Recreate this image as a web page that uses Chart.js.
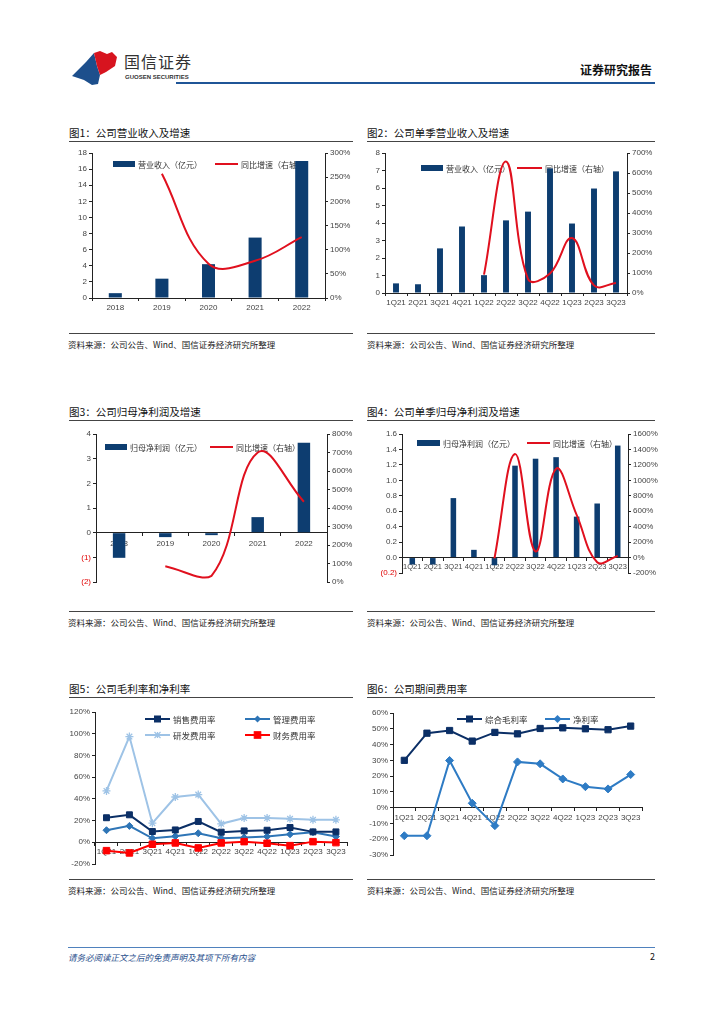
<!DOCTYPE html>
<html>
<head>
<meta charset="utf-8">
<script src="https://cdn.jsdelivr.net/npm/chart.js@4.4.0/dist/chart.umd.min.js"></script>
<style>
    body { margin: 0; width: 724px; height: 1024px; position: relative; background: #fff; overflow: hidden;
           font-family: "Noto Sans CJK SC", sans-serif; }
    .title { position: absolute; font-size: 10.5px; line-height: 14px; color: #111; white-space: nowrap; }
    .rule { position: absolute; height: 1px; background: #444; }
    .src { position: absolute; font-size: 8.5px; line-height: 12px; color: #222; white-space: nowrap; }
    canvas { position: absolute; }
</style>
</head>
<body>
<!-- cabecera -->
<svg style="position:absolute;left:0;top:0" width="200" height="95">
    <polygon points="72,76 86,62 94,53 97,66 100,75 98,84 92,85 84,80" fill="#1d4f8c"/>
    <polygon points="94,53 100,51 107,54 112,52 117,57 115,66 106,72 100,75 97,66" fill="#d7141f"/>
</svg>
<div style="position:absolute;left:124px;top:52px;font-size:16px;line-height:18px;color:#333;letter-spacing:1px">国信证券</div>
<div style="position:absolute;left:125px;top:73px;font-family:'Liberation Sans',Arial;font-size:6px;line-height:8px;color:#333;font-weight:bold">GUOSEN SECURITIES</div>
<div style="position:absolute;left:580px;top:62px;font-size:12px;line-height:15px;font-weight:bold;color:#111">证券研究报告</div>
<div style="position:absolute;left:176px;top:82px;width:479px;height:2px;background:#1f5597"></div>

<!-- títulos y fuentes -->
<div class="title" style="left:69px;top:126px">图1：公司营业收入及增速</div>
<div class="rule" style="left:69px;top:141px;width:284px"></div>
<div class="title" style="left:367px;top:126px">图2：公司单季营业收入及增速</div>
<div class="rule" style="left:367px;top:141px;width:288px"></div>
<div class="rule" style="left:69px;top:333px;width:284px"></div>
<div class="src" style="left:68px;top:338px">资料来源：公司公告、Wind、国信证券经济研究所整理</div>
<div class="rule" style="left:367px;top:333px;width:288px"></div>
<div class="src" style="left:367px;top:338px">资料来源：公司公告、Wind、国信证券经济研究所整理</div>

<div class="title" style="left:69px;top:405px">图3：公司归母净利润及增速</div>
<div class="rule" style="left:69px;top:420px;width:284px"></div>
<div class="title" style="left:367px;top:405px">图4：公司单季归母净利润及增速</div>
<div class="rule" style="left:367px;top:420px;width:288px"></div>
<div class="rule" style="left:69px;top:611px;width:284px"></div>
<div class="src" style="left:68px;top:616px">资料来源：公司公告、Wind、国信证券经济研究所整理</div>
<div class="rule" style="left:367px;top:611px;width:288px"></div>
<div class="src" style="left:367px;top:616px">资料来源：公司公告、Wind、国信证券经济研究所整理</div>

<div class="title" style="left:69px;top:682px">图5：公司毛利率和净利率</div>
<div class="rule" style="left:69px;top:697px;width:284px"></div>
<div class="title" style="left:367px;top:682px">图6：公司期间费用率</div>
<div class="rule" style="left:367px;top:697px;width:288px"></div>
<div class="rule" style="left:69px;top:879px;width:284px"></div>
<div class="src" style="left:68px;top:884px">资料来源：公司公告、Wind、国信证券经济研究所整理</div>
<div class="rule" style="left:367px;top:879px;width:288px"></div>
<div class="src" style="left:367px;top:884px">资料来源：公司公告、Wind、国信证券经济研究所整理</div>

<!-- pie de página -->
<div style="position:absolute;left:68px;top:947px;width:587px;height:1px;background:#4f81bd"></div>
<div style="position:absolute;left:68px;top:951px;font-size:8.5px;line-height:12px;font-style:italic;color:#1f4e8c">请务必阅读正文之后的免责声明及其项下所有内容</div>
<div style="position:absolute;left:650px;top:951px;font-size:9px;line-height:12px;color:#111">2</div>

<canvas id="c1" width="284" height="175" style="left:69px;top:145px"></canvas>
<canvas id="c2" width="288" height="175" style="left:367px;top:145px"></canvas>
<canvas id="c3" width="284" height="167" style="left:69px;top:425px"></canvas>
<canvas id="c4" width="291" height="167" style="left:367px;top:425px"></canvas>
<canvas id="c5" width="284" height="170" style="left:69px;top:702px"></canvas>
<canvas id="c6" width="288" height="160" style="left:367px;top:702px"></canvas>

<script>
// Datos
const years = ['2018', '2019', '2020', '2021', '2022'];
const quarters = ['1Q21', '2Q21', '3Q21', '4Q21', '1Q22', '2Q22', '3Q22', '4Q22', '1Q23', '2Q23', '3Q23'];

// 图1 营业收入（亿元）/ 同比增速（%）
const revenueYear = [0.6, 2.4, 4.2, 7.5, 17.0];
const revenueYearYoy = [null, 257, 71, 77, 126];

// 图2 单季营业收入
const revenueQ = [0.55, 0.5, 2.55, 3.8, 1.02, 4.15, 4.65, 7.12, 3.97, 5.97, 6.95];
const revenueQYoy = [null, null, null, null, 92, 658, 70, 97, 275, 38, 50];

// 图3 归母净利润
const profitYear = [-1.02, -0.18, -0.1, 0.63, 3.65];
const profitYearYoy = [null, 85, 33, 700, 434];

// 图4 单季归母净利润
const profitQ = [-0.09, -0.09, 0.77, 0.1, -0.1, 1.19, 1.28, 1.3, 0.53, 0.7, 1.45];
const profitQYoy = [null, null, null, null, -10, 1340, 78, 1150, 553, -60, 22];

// 图5 费用率（%）
const salesRate = [22.6, 25.3, 9.9, 11.4, 19.2, 9.3, 10.5, 11.1, 13.6, 9.6, 9.6];
const adminRate = [11.1, 15.1, 3.7, 5.6, 8.3, 3.7, 4.3, 5.3, 7.4, 9.3, 5.3];
const rdRate = [47.3, 97.4, 17.6, 41.7, 43.9, 17.0, 22.3, 22.3, 21.6, 20.7, 20.7];
const finRate = [-7.7, -9.8, -1.8, -0.6, -5.2, -0.6, 0.6, -0.9, -3.1, 0.6, -0.3];

// 图6 毛利率 / 净利率（%）
const grossMargin = [30.0, 47.2, 48.9, 42.2, 47.7, 46.8, 50.2, 50.6, 50.0, 49.4, 51.7];
const netMargin = [-17.8, -17.8, 29.9, 2.8, -11.4, 29.0, 27.8, 18.2, 13.3, 11.9, 21.0];

// Estilos comunes
const NAVY = '#0d3d70';
const RED = '#e0101e';
const axisColor = '#222';
const tickColor = '#444';
const tickFont = { family: '"Liberation Sans", Arial, sans-serif', size: 8 };
const pct = v => v + '%';
const negColor = ctx => (ctx.tick && ctx.tick.value < -1e-9) ? '#e00000' : tickColor;

// Eje de valores
function valueAxis(position, min, max, step, fmt, width, color) {
    return {
        position: position, min: min, max: max,
        grid: { drawOnChartArea: false, drawTicks: true, tickLength: 3, color: axisColor },
        border: { display: true, color: axisColor },
        ticks: { stepSize: step, font: tickFont, color: color || tickColor, padding: 2, callback: fmt, autoSkip: false },
        afterFit(scale) { scale.width = width; }
    };
}

// Eje de categorías
function categoryAxis(extra, tickPadding, fontSize) {
    return Object.assign({
        offset: true,
        grid: { display: true, drawOnChartArea: false, drawTicks: true, tickLength: 3, color: axisColor, offset: true },
        border: { display: true, color: axisColor },
        ticks: { font: Object.assign({}, tickFont, { size: fontSize || 8 }), color: tickColor,
                 padding: tickPadding || 2, maxRotation: 0, minRotation: 0, autoSkip: false }
    }, extra);
}

// Marcadores para la leyenda
function drawMarker(ctx, style, x, y, size, fill, stroke) {
    ctx.fillStyle = fill;
    ctx.strokeStyle = stroke;
    ctx.lineWidth = 1;
    if (style === 'rect') {
        ctx.fillRect(x - size, y - size, size * 2, size * 2);
        ctx.strokeRect(x - size, y - size, size * 2, size * 2);
    } else if (style === 'rectRot') {
        ctx.beginPath();
        ctx.moveTo(x, y - size); ctx.lineTo(x + size, y); ctx.lineTo(x, y + size); ctx.lineTo(x - size, y);
        ctx.closePath(); ctx.fill();
    } else if (style === 'star') {
        ctx.beginPath();
        ctx.moveTo(x - size, y - size); ctx.lineTo(x + size, y + size);
        ctx.moveTo(x + size, y - size); ctx.lineTo(x - size, y + size);
        ctx.moveTo(x, y - size); ctx.lineTo(x, y + size);
        ctx.lineWidth = 1.2; ctx.stroke();
    }
}

// Leyenda dibujada dentro del área del gráfico (debajo de las barras)
function innerLegend(box, items, fontSize) {
    return {
        id: 'innerLegend',
        beforeDatasetsDraw(chart) {
            const ctx = chart.ctx;
            ctx.save();
            ctx.font = fontSize + 'px "Noto Sans CJK SC"';
            ctx.textBaseline = 'middle';
            items.forEach(it => {
                const x = it.x - box.left, y = it.y - box.top;
                if (it.kind === 'box') {
                    ctx.fillStyle = it.color;
                    ctx.fillRect(x, y - 3, it.w, 6);
                } else {
                    ctx.strokeStyle = it.color;
                    ctx.lineWidth = 2;
                    ctx.beginPath(); ctx.moveTo(x, y); ctx.lineTo(x + it.w, y); ctx.stroke();
                    if (it.marker) drawMarker(ctx, it.marker, x + it.w / 2, y, it.size, it.fill || it.color, it.color);
                }
                ctx.fillStyle = '#333';
                ctx.fillText(it.text, x + it.w + 3, y + 0.5);
            });
            ctx.restore();
        }
    };
}

const baseOptions = { responsive: false, animation: false, devicePixelRatio: 1,
    plugins: { legend: { display: false }, tooltip: { enabled: false } } };

function barLineChart(id, box, labels, bars, line, scales, padding, legendItems, barPct) {
    new Chart(document.getElementById(id), {
        type: 'bar',
        data: {
            labels: labels,
            datasets: [
                { type: 'line', data: line, yAxisID: 'y1', borderColor: RED, borderWidth: 2, pointRadius: 0,
                  tension: 0.4, order: 0 },
                { type: 'bar', data: bars, yAxisID: 'y', backgroundColor: NAVY,
                  categoryPercentage: 1, barPercentage: barPct, order: 1 }
            ]
        },
        options: Object.assign({}, baseOptions, { layout: { padding: padding }, scales: scales }),
        plugins: [innerLegend(box, legendItems, 8)]
    });
}

// 图1
barLineChart('c1', { left: 69, top: 145 }, years, revenueYear, revenueYearYoy, {
    x: categoryAxis({ afterFit(s) { s.height = 22; } }),
    y: valueAxis('left', 0, 18, 2, v => v, 23),
    y1: valueAxis('right', 0, 300, 50, pct, 28)
}, { top: 8 }, [
    { kind: 'box', x: 113, y: 164, w: 22, color: NAVY, text: '营业收入（亿元）' },
    { kind: 'line', x: 215, y: 164, w: 23, color: RED, text: '同比增速（右轴）' }
], 0.28);

// 图2
barLineChart('c2', { left: 367, top: 145 }, quarters, revenueQ, revenueQYoy, {
    x: categoryAxis({ afterFit(s) { s.height = 27; } }),
    y: valueAxis('left', 0, 8, 1, v => v, 18),
    y1: valueAxis('right', 0, 700, 100, pct, 28)
}, { top: 8 }, [
    { kind: 'box', x: 421, y: 168, w: 22, color: NAVY, text: '营业收入（亿元）' },
    { kind: 'line', x: 517, y: 168, w: 25, color: RED, text: '同比增速（右轴）' }
], 0.27);

// 图3
barLineChart('c3', { left: 69, top: 425 }, years, profitYear, profitYearYoy, {
    x: categoryAxis({ position: { y: 0 } }, 3),
    y: valueAxis('left', -2, 4, 1, v => v < 0 ? '(' + (-v) + ')' : v, 27, negColor),
    y1: valueAxis('right', 0, 800, 100, pct, 26)
}, { top: 9, bottom: 10 }, [
    { kind: 'box', x: 105, y: 447, w: 22, color: NAVY, text: '归母净利润（亿元）' },
    { kind: 'line', x: 210, y: 447, w: 23, color: RED, text: '同比增速（右轴）' }
], 0.27);

// 图4
barLineChart('c4', { left: 367, top: 425 }, quarters, profitQ, profitQYoy, {
    x: categoryAxis({ position: { y: 0 } }, 2, 7.5),
    y: valueAxis('left', -0.2, 1.6, 0.2, v => v < -1e-9 ? '(' + (-v).toFixed(1) + ')' : v.toFixed(1), 35, negColor),
    y1: valueAxis('right', -200, 1600, 200, pct, 30)
}, { top: 9, bottom: 19 }, [
    { kind: 'box', x: 417, y: 443, w: 23, color: NAVY, text: '归母净利润（亿元）' },
    { kind: 'line', x: 527, y: 443, w: 23, color: RED, text: '同比增速（右轴）' }
], 0.27);

// 图5
function lineSet(data, color, style, radius, fill) {
    return { data: data, borderColor: color, backgroundColor: fill || color, borderWidth: 2,
             pointStyle: style, pointRadius: radius, pointBorderColor: color, pointBackgroundColor: fill || color,
             pointBorderWidth: style === 'star' ? 1.3 : 1, tension: 0 };
}

new Chart(document.getElementById('c5'), {
    type: 'line',
    data: {
        labels: quarters,
        datasets: [
            lineSet(finRate, '#ff0000', 'rect', 4.6),
            lineSet(salesRate, '#0b2f66', 'rect', 4.2),
            lineSet(adminRate, '#2e75b6', 'rectRot', 3.5),
            lineSet(rdRate, '#9ec3e6', 'star', 4)
        ]
    },
    options: Object.assign({}, baseOptions, {
        layout: { padding: { top: 10, bottom: 8, right: 5 } },
        scales: {
            x: categoryAxis({ position: { y: 0 } }),
            y: valueAxis('left', -20, 120, 20, pct, 26)
        }
    }),
    plugins: [innerLegend({ left: 69, top: 702 }, [
        { kind: 'line', x: 145, y: 719, w: 25, color: '#0b2f66', marker: 'rect', size: 3, text: '销售费用率' },
        { kind: 'line', x: 245, y: 719, w: 25, color: '#2e75b6', marker: 'rectRot', size: 3.5, text: '管理费用率' },
        { kind: 'line', x: 145, y: 735, w: 25, color: '#9ec3e6', marker: 'star', size: 3, text: '研发费用率' },
        { kind: 'line', x: 245, y: 735, w: 25, color: '#ff0000', marker: 'rect', size: 3.3, text: '财务费用率' }
    ], 8.5)]
});

// 图6
new Chart(document.getElementById('c6'), {
    type: 'line',
    data: {
        labels: quarters,
        datasets: [
            lineSet(grossMargin, '#0b2f66', 'rect', 4.4),
            lineSet(netMargin, '#2e7bc4', 'rectRot', 4)
        ]
    },
    options: Object.assign({}, baseOptions, {
        layout: { padding: { top: 11, bottom: 7, right: 13 } },
        scales: {
            x: categoryAxis({ position: { y: 0 } }),
            y: valueAxis('left', -30, 60, 10, pct, 26)
        }
    }),
    plugins: [innerLegend({ left: 367, top: 702 }, [
        { kind: 'line', x: 457, y: 719, w: 25, color: '#0b2f66', marker: 'rect', size: 3, text: '综合毛利率' },
        { kind: 'line', x: 545, y: 719, w: 25, color: '#2e7bc4', marker: 'rectRot', size: 4, text: '净利率' }
    ], 8.5)]
});
</script>
</body>
</html>
